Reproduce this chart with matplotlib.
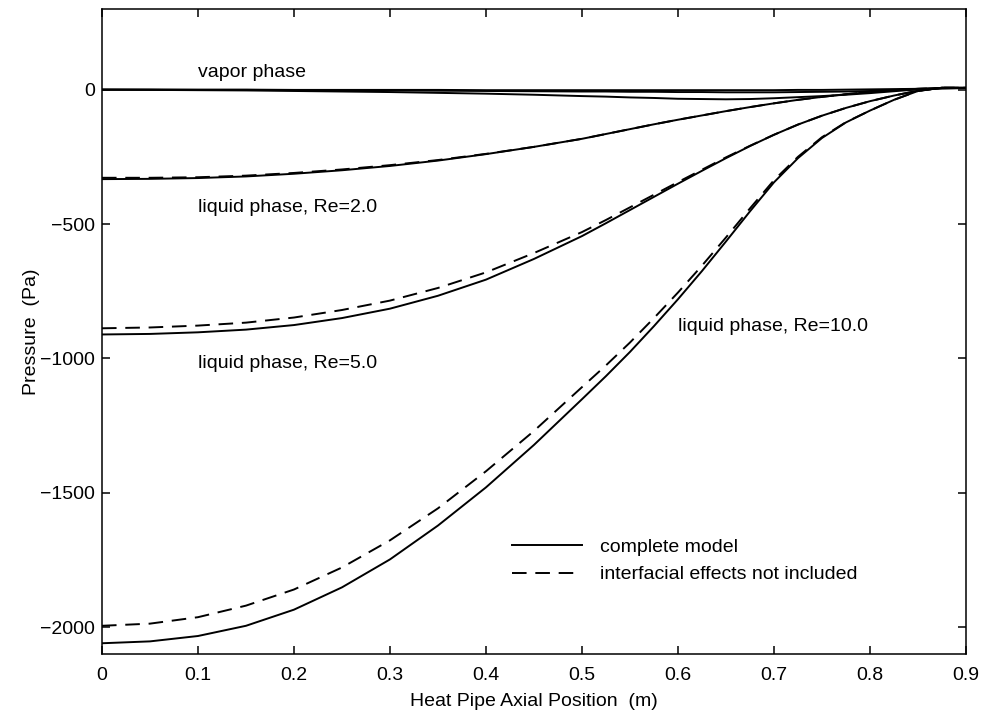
import matplotlib
matplotlib.use("Agg")
import matplotlib.pyplot as plt

plt.rcParams["font.family"] = ["Liberation Sans", "DejaVu Sans"]

# positions along the heat pipe (m)
x = [0, 0.05, 0.1, 0.15, 0.2, 0.25, 0.3, 0.35, 0.4, 0.45,
     0.5, 0.525, 0.55, 0.575, 0.6, 0.625, 0.65, 0.675, 0.7, 0.725,
     0.75, 0.775, 0.8, 0.825, 0.85, 0.875, 0.9]

# vapor phase (Pa)
vap_re2 = [0, 0, 0, 0, -1, -1, -1, -1, -2, -2,
           -2, -2, -2, -2, -2, -2, -2, -2, -2, -1,
           -1, 0, 1, 2, 3, 5, 6]
vap_re5 = [0, 0, -1, -1, -2, -2, -3, -4, -5, -6,
           -7, -7, -8, -8, -9, -9, -10, -10, -10, -9,
           -8, -7, -5, -2, 1, 5, 6]
vap_re10 = [0, -1, -2, -3, -5, -7, -9, -12, -15, -19,
            -24, -26, -29, -31, -34, -35, -36, -35, -32, -28,
            -24, -19, -13, -6, 1, 5, 6]

# liquid phase, complete model (Pa)
liq_re2 = [-333, -332, -329, -323, -313, -300, -284, -264, -240, -213,
           -183, -165, -147, -129, -112, -96, -80, -65, -51, -38,
           -27, -17, -9, -2, 3, 6, 6]
liq_re5 = [-911, -909, -903, -893, -876, -850, -815, -767, -707, -630,
           -545, -497, -448, -399, -350, -302, -255, -210, -168, -130,
           -97, -68, -43, -22, -4, 7, 7]
liq_re10 = [-2060, -2053, -2033, -1995, -1935, -1852, -1748, -1622, -1480, -1322,
            -1152, -1066, -976, -880, -780, -675, -565, -453, -345, -255,
            -180, -122, -78, -38, -5, 7, 7]

# liquid phase, interfacial effects not included (Pa)
noint_re2 = [-328, -328, -326, -320, -310, -297, -281, -262, -239, -213,
             -183, -165, -147, -129, -112, -96, -80, -65, -51, -38,
             -27, -17, -9, -2, 3, 6, 6]
noint_re5 = [-888, -885, -878, -867, -848, -820, -785, -738, -680, -608,
             -530, -485, -438, -391, -344, -298, -252, -209, -168, -130,
             -97, -68, -43, -22, -4, 7, 7]
noint_re10 = [-1995, -1987, -1963, -1920, -1860, -1778, -1677, -1558, -1420, -1270,
              -1107, -1026, -941, -850, -755, -655, -550, -442, -337, -250,
              -177, -121, -78, -38, -5, 7, 7]

fig = plt.figure(figsize=(9.89, 7.15), dpi=100)
ax = fig.add_axes([0.1031, 0.0853, 0.8736, 0.9021])

lw = 1.4
dash = (7.5, 4.5)
for v in (vap_re2, vap_re5, vap_re10):
    ax.plot(x, v, color="black", lw=lw)

ax.plot(x, liq_re2, color="black", lw=lw, label="complete model")
ax.plot(x, liq_re5, color="black", lw=lw)
ax.plot(x, liq_re10, color="black", lw=lw)
ax.plot(x, noint_re2, color="black", lw=lw, dashes=dash,
        label="interfacial effects not included")
ax.plot(x, noint_re5, color="black", lw=lw, dashes=dash)
ax.plot(x, noint_re10, color="black", lw=lw, dashes=dash)

fs = 14
ax.text(0.1, 62, "vapor phase", fontsize=fs, va="center")
ax.text(0.1, -438, "liquid phase, Re=2.0", fontsize=fs, va="center")
ax.text(0.1, -1020, "liquid phase, Re=5.0", fontsize=fs, va="center")
ax.text(0.6, -883, "liquid phase, Re=10.0", fontsize=fs, va="center")

ax.set_xlim(0, 0.9)
ax.set_ylim(-2100, 300)
ax.set_xticks([0, 0.1, 0.2, 0.3, 0.4, 0.5, 0.6, 0.7, 0.8, 0.9])
ax.set_xticklabels(["0", "0.1", "0.2", "0.3", "0.4", "0.5", "0.6", "0.7", "0.8", "0.9"])
ax.set_yticks([-2000, -1500, -1000, -500, 0])
ax.tick_params(direction="in", top=True, right=True, length=6, width=1.1,
               labelsize=fs)
ax.tick_params(axis="x", pad=9)
ax.tick_params(axis="y", pad=5)
for s in ax.spines.values():
    s.set_linewidth(1.1)

ax.set_xlabel("Heat Pipe Axial Position  (m)", fontsize=fs, labelpad=7)
ax.set_ylabel("Pressure  (Pa)", fontsize=fs, labelpad=0)

ax.legend(loc="upper left", bbox_to_anchor=(0.475, 0.179), frameon=False,
          fontsize=fs, handlelength=3.6, handletextpad=0.9, labelspacing=0.5,
          borderpad=0, borderaxespad=0)

fig.savefig("out.png", dpi=100)
